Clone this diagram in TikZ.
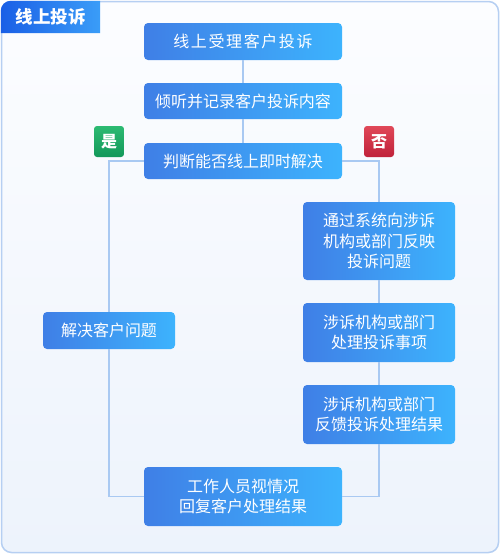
\documentclass[tikz,border=0pt]{standalone}
\usepackage{fontspec}
\newfontfamily\cjk{Noto Sans CJK SC}
\definecolor{boxL}{HTML}{3F7FE6}
\definecolor{boxR}{HTML}{3DB3FD}
\definecolor{linecol}{HTML}{A9C9F2}
\definecolor{framecol}{HTML}{B6CFF2}
\definecolor{bgtop}{HTML}{FCFDFF}
\definecolor{bgbot}{HTML}{EDF3FC}
\definecolor{tabL}{HTML}{1A5FE6}
\definecolor{tabR}{HTML}{3A9DF8}
\definecolor{yesT}{HTML}{2DBA72}
\definecolor{yesB}{HTML}{13985A}
\definecolor{noT}{HTML}{E04858}
\definecolor{noB}{HTML}{C0213A}
\tikzset{
  box/.style={draw=none, rounded corners=4pt, left color=boxL, right color=boxR,
    text=white, font=\cjk\fontsize{16}{20.5}\selectfont, align=center, inner sep=0pt},
  badge/.style={draw=none, rounded corners=3pt, text=white,
    font=\cjk\bfseries\fontsize{16}{18}\selectfont, inner sep=0pt,
    minimum width=30pt, minimum height=31pt},
  conn/.style={draw=linecol, line width=1.4pt}
}
\begin{document}
\begin{tikzpicture}[x=1pt,y=-1pt]
\useasboundingbox (0,0) rectangle (500,555);
\fill[white] (0,0) rectangle (500,555);
\draw[framecol, line width=1.5pt, rounded corners=10pt, top color=bgtop, bottom color=bgbot]
  (1.5,1.5) rectangle (498.5,552.5);
\shade[left color=tabL, right color=tabR]
  (0.75,33) [rounded corners=10pt]-- (0.75,0.75) [sharp corners]-- (100,0.75) -- (100,33) -- cycle;
\node[text=white, font=\cjk\bfseries\fontsize{17.5}{20}\selectfont] (title) at (51,17) {线上投诉};

\node[box, minimum width=198pt, minimum height=37pt, font=\cjk\fontsize{16}{20.5}\selectfont\addfontfeature{LetterSpace=10}] (b1) at (243,41.5) {线上受理客户投诉};
\node[box, minimum width=198pt, minimum height=36pt] (b2) at (243,101) {倾听并记录客户投诉内容};
\node[box, minimum width=198pt, minimum height=36pt] (b3) at (243,161) {判断能否线上即时解决};
\node[box, minimum width=152pt, minimum height=78pt] (b4) at (379,241) {通过系统向涉诉\\机构或部门反映\\投诉问题};
\node[box, minimum width=152pt, minimum height=59pt] (b5) at (379,332.5) {涉诉机构或部门\\处理投诉事项};
\node[box, minimum width=152pt, minimum height=59pt] (b6) at (379,414.5) {涉诉机构或部门\\反馈投诉处理结果};
\node[box, minimum width=132pt, minimum height=37pt] (b7) at (109,330.5) {解决客户问题};
\node[box, minimum width=198pt, minimum height=59pt] (b8) at (243,496.5) {工作人员视情况\\回复客户处理结果};

\node[badge, top color=yesT, bottom color=yesB] (yes) at (109,141.5) {是};
\node[badge, top color=noT, bottom color=noB] (no) at (379,141.5) {否};

\draw[conn] (b1) -- (b2);
\draw[conn] (b2) -- (b3);
\draw[conn] (b3.west) -| (b7.north);
\draw[conn] (b7.south) |- (b8.west);
\draw[conn] (b3.east) -| (b4.north);
\draw[conn] (b4) -- (b5);
\draw[conn] (b5) -- (b6);
\draw[conn] (b6.south) |- (b8.east);
\end{tikzpicture}
\end{document}
